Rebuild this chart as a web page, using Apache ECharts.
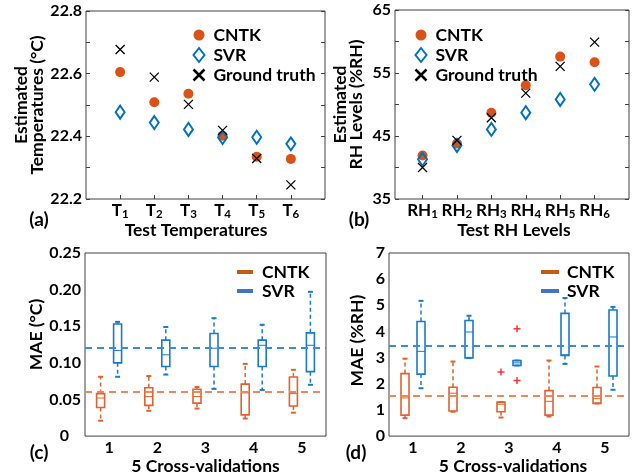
<!DOCTYPE html>
<html><head><meta charset="utf-8">
<script src="https://cdn.jsdelivr.net/npm/echarts@6/dist/echarts.min.js"></script>
<style>html,body{margin:0;padding:0;background:#fff}#c{width:637px;height:476px}</style>
</head><body><div id="c"></div>
<script>
// ---- data ----
const testIdx = [1, 2, 3, 4, 5, 6];
const tempCNTK = [22.605, 22.509, 22.536, 22.402, 22.335, 22.328];
const tempSVR  = [22.477, 22.444, 22.422, 22.396, 22.397, 22.376];
const tempGT   = [22.677, 22.589, 22.502, 22.419, 22.329, 22.245];
const rhCNTK = [41.9, 43.8, 48.7, 53.05, 57.6, 56.7];
const rhSVR  = [41.3, 43.5, 46.05, 48.7, 50.8, 53.2];
const rhGT   = [40.0, 44.3, 47.9, 51.8, 56.05, 59.9];
const folds = ['1', '2', '3', '4', '5'];
// [low whisker, q1, median, q3, high whisker]
const maeTempCNTK = [[0.021,0.039,0.052,0.058,0.081],[0.0345,0.042,0.054,0.066,0.082],[0.0376,0.045,0.054,0.064,0.067],[0.024,0.029,0.059,0.071,0.0986],[0.032,0.041,0.058,0.0806,0.0905]];
const maeTempSVR  = [[0.081,0.100,0.117,0.153,0.156],[0.084,0.095,0.111,0.131,0.149],[0.0645,0.095,0.120,0.140,0.161],[0.063,0.095,0.124,0.131,0.152],[0.070,0.088,0.124,0.141,0.197]];
const maeTempMeanCNTK = 0.055;
const maeTempMeanSVR = 0.118;
const maeRhCNTK = [[0.685,0.80,1.46,2.39,2.96],[0.93,0.96,1.64,1.87,2.85],[0.71,0.93,1.22,1.30,1.30],[0.75,0.80,1.33,1.74,2.89],[1.25,1.25,1.43,1.86,2.66]];
const maeRhSVR  = [[1.83,2.37,3.24,4.38,5.17],[2.99,2.99,3.98,4.42,4.60],[2.70,2.70,2.80,2.89,2.89],[2.76,3.08,3.11,4.69,5.28],[1.77,2.30,3.79,4.82,4.94]];
const maeRhOutCNTK = [[2, 2.45]];
const maeRhOutSVR  = [[2, 4.10], [2, 2.13]];
const maeRhMeanCNTK = 1.53;
const maeRhMeanSVR = 3.47;

// ---- style ----
const FONT = 'Lato';
const ORANGE = '#D95319', BLUE = '#0072BD';
const BOX_O = '#E0622E', BOX_B = '#1A7BC6';
const MEAN_O = '#EC8A5E', MEAN_B = '#3A8DD4';
const FRAME = '#404040';
const lbl = {fontFamily: FONT, fontWeight: 'bold', fontSize: 16, color: '#000'};
const ttl = {fontFamily: FONT, fontWeight: 'bold', fontSize: 17.5, color: '#000'};
const CROSS = 'path://M0,0L10,10M10,0L0,10';
const PLUS = 'path://M5,0L5,10M0,5L10,5';

const chart = echarts.init(document.getElementById('c'), null, {renderer: 'canvas'});

function subFmt(prefix) {
  return v => '{t|' + prefix + '}{s|' + v + '}';
}
const subRich = {
  t: {fontFamily: FONT, fontWeight: 'bold', fontSize: 17, lineHeight: 17, verticalAlign: 'top', color: '#000'},
  s: {fontFamily: FONT, fontWeight: 'bold', fontSize: 11.5, lineHeight: 11.5, padding: [6, 0, 0, 0], verticalAlign: 'top', color: '#000'}
};

function xScatterAxis(gi, min, prefix, name, namePad) {
  return {
    type: 'value', gridIndex: gi, min: min, max: 7,
    axisLine: {show: false}, splitLine: {show: false},
    axisTick: {inside: true, length: 4, lineStyle: {color: FRAME}, customValues: testIdx},
    axisLabel: {margin: 3, customValues: testIdx, formatter: subFmt(prefix), rich: subRich},
    name: name, nameLocation: 'middle', nameGap: 19,
    nameTextStyle: Object.assign({}, ttl, {padding: namePad})
  };
}
function yAxisL(gi, min, max, interval, fmt, name, gap, pad, rich) {
  return {
    type: 'value', gridIndex: gi, min: min, max: max, interval: interval,
    axisLine: {show: false}, splitLine: {show: false},
    axisTick: {inside: true, length: 4, lineStyle: {color: FRAME}},
    axisLabel: Object.assign({}, lbl, {margin: 4, formatter: fmt, rich: rich}),
    name: name, nameLocation: 'middle', nameGap: gap,
    nameTextStyle: Object.assign({}, ttl, {lineHeight: 16, padding: pad})
  };
}
function yAxisR(gi, min, max, interval) {
  return {
    type: 'value', gridIndex: gi, position: 'right', min: min, max: max, interval: interval,
    axisLine: {show: false}, splitLine: {show: false}, axisLabel: {show: false},
    axisTick: {inside: true, length: 4, lineStyle: {color: FRAME}}
  };
}
function xCatAxis(gi, name, pad) {
  return {
    type: 'category', gridIndex: gi, data: folds, boundaryGap: true,
    axisLine: {show: false}, splitLine: {show: false},
    axisTick: {inside: true, length: 4, alignWithLabel: true, lineStyle: {color: FRAME}},
    axisLabel: Object.assign({}, lbl, {margin: 4}),
    name: name, nameLocation: 'middle', nameGap: 17,
    nameTextStyle: Object.assign({}, ttl, {padding: pad})
  };
}

function boxRender(offset, color) {
  return function (params, api) {
    const i = api.value(0);
    const x = api.coord([i, 0])[0] + offset;
    const py = k => api.coord([i, api.value(k)])[1];
    const lo = py(1), q1 = py(2), md = py(3), q3 = py(4), hi = py(5);
    const hw = 4, cw = 2.5;
    const dash = {stroke: color, lineWidth: 1.5, lineDash: [4, 3]};
    const solid = {stroke: color, lineWidth: 2};
    return {type: 'group', children: [
      {type: 'line', shape: {x1: x, y1: q3, x2: x, y2: hi}, style: dash},
      {type: 'line', shape: {x1: x, y1: q1, x2: x, y2: lo}, style: dash},
      {type: 'line', shape: {x1: x - cw, y1: hi, x2: x + cw, y2: hi}, style: solid},
      {type: 'line', shape: {x1: x - cw, y1: lo, x2: x + cw, y2: lo}, style: solid},
      {type: 'rect', shape: {x: x - hw, y: q3, width: 2 * hw, height: Math.max(q1 - q3, 1)}, style: {fill: 'none', stroke: color, lineWidth: 1.6}},
      {type: 'line', shape: {x1: x - hw, y1: md, x2: x + hw, y2: md}, style: {stroke: color, lineWidth: 1}}
    ]};
  };
}
function boxSeries(name, gi, arr, offset, color, mean, meanColor) {
  return {
    name: name, type: 'custom', xAxisIndex: gi, yAxisIndex: gi * 2,
    renderItem: boxRender(offset, color),
    encode: {x: 0, y: [1, 2, 3, 4, 5]},
    data: arr.map((b, i) => [i].concat(b)),
    z: 3,
    markLine: {
      silent: true, symbol: 'none', label: {show: false},
      lineStyle: {type: [7, 5], color: meanColor, width: 1.8},
      data: [{yAxis: mean}]
    }
  };
}

const legendText = Object.assign({}, ttl, {lineHeight: 17});

const option = {
  animation: false,
  backgroundColor: '#fff',
  grid: [
    {left: 86, top: 11, width: 239, height: 188, show: true, borderColor: FRAME, borderWidth: 1, backgroundColor: 'transparent'},
    {left: 395, top: 10, width: 234, height: 189, show: true, borderColor: FRAME, borderWidth: 1, backgroundColor: 'transparent'},
    {left: 85, top: 253, width: 241, height: 187, show: true, borderColor: FRAME, borderWidth: 1, backgroundColor: 'transparent'},
    {left: 389, top: 253, width: 240, height: 187, show: true, borderColor: FRAME, borderWidth: 1, backgroundColor: 'transparent'}
  ],
  xAxis: [
    xScatterAxis(0, 0, 'T', 'Test Temperatures', [0, 19, 0, 0]),
    xScatterAxis(1, 0.2, 'RH', 'Test RH Levels', [0, 0, 0, 4]),
    xCatAxis(2, '5 Cross-validations', [0, 0, 0, 0]),
    xCatAxis(3, '5 Cross-validations', [0, 0, 0, 8])
  ],
  yAxis: [
    yAxisL(0, 22.2, 22.8, 0.1, v => (Math.round(v * 10) % 2 === 0 ? v.toFixed(1) : ''), 'Estimated\nTemperatures (°C)', 40, [0, 0, 0, 0]),
    yAxisR(0, 22.2, 22.8, 0.1),
    yAxisL(1, 35, 65, 5, v => ((Math.round(v) - 35) % 10 === 0 ? String(Math.round(v)) : ''), 'Estimated\nRH Levels (%RH)', 31, [0, 0, 0, 0]),
    yAxisR(1, 35, 65, 5),
    yAxisL(2, 0, 0.25, 0.05, v => (Math.abs(v) < 1e-9 ? '{z|0}' : v.toFixed(2)), 'MAE (°C)', 40, [0, 0, 0, 20],
      {z: Object.assign({}, lbl, {padding: [0, 12, 0, 0]})}),
    yAxisR(2, 0, 0.25, 0.05),
    yAxisL(3, 0, 7, 1, v => String(Math.round(v)), 'MAE (%RH)', 24, [0, 0, 0, 8]),
    yAxisR(3, 0, 7, 1)
  ],
  legend: [
    {left: 186, top: 21, orient: 'vertical', itemWidth: 11, itemHeight: 14, itemGap: 2,
     textStyle: Object.assign({}, legendText, {padding: [0, 0, 0, 4]}),
     formatter: n => n.split('|')[0],
     data: ['CNTK|a', 'SVR|a', {name: 'Ground truth|a', itemStyle: {borderWidth: 2.5}}]},
    {left: 408, top: 21, orient: 'vertical', itemWidth: 11, itemHeight: 14, itemGap: 2,
     textStyle: Object.assign({}, legendText, {padding: [0, 0, 0, 4]}),
     formatter: n => n.split('|')[0],
     data: ['CNTK|b', 'SVR|b', {name: 'Ground truth|b', itemStyle: {borderWidth: 2.5}}]},
    {left: 232, top: 258, orient: 'vertical', itemWidth: 16, itemHeight: 4, itemGap: 1,
     textStyle: Object.assign({}, legendText, {padding: [0, 0, 0, 4]}),
     formatter: n => n.split('|')[0],
     data: [{name: 'CNTK|c', icon: 'rect', itemStyle: {color: '#C55A11', borderWidth: 0}},
            {name: 'SVR|c', icon: 'rect', itemStyle: {color: '#4472C4', borderWidth: 0}}]},
    {left: 536, top: 258, orient: 'vertical', itemWidth: 18, itemHeight: 4, itemGap: 1,
     textStyle: Object.assign({}, legendText, {padding: [0, 0, 0, 3]}),
     formatter: n => n.split('|')[0],
     data: [{name: 'CNTK|d', icon: 'rect', itemStyle: {color: '#C55A11', borderWidth: 0}},
            {name: 'SVR|d', icon: 'rect', itemStyle: {color: '#4472C4', borderWidth: 0}}]}
  ],
  series: [
    {name: 'CNTK|a', type: 'scatter', xAxisIndex: 0, yAxisIndex: 0, symbol: 'circle', symbolSize: 10,
     itemStyle: {color: ORANGE, opacity: 1}, data: testIdx.map((t, i) => [t, tempCNTK[i]])},
    {name: 'SVR|a', type: 'scatter', xAxisIndex: 0, yAxisIndex: 0, symbol: 'diamond', symbolSize: [9, 13],
     itemStyle: {color: 'rgba(0,0,0,0)', borderColor: BLUE, borderWidth: 2, opacity: 1}, data: testIdx.map((t, i) => [t, tempSVR[i]])},
    {name: 'Ground truth|a', type: 'scatter', xAxisIndex: 0, yAxisIndex: 0, symbol: CROSS, symbolSize: 9, symbolKeepAspect: true,
     itemStyle: {color: 'none', borderColor: '#000', borderWidth: 1.3, opacity: 1}, data: testIdx.map((t, i) => [t, tempGT[i]])},
    {name: 'CNTK|b', type: 'scatter', xAxisIndex: 1, yAxisIndex: 2, symbol: 'circle', symbolSize: 10,
     itemStyle: {color: ORANGE, opacity: 1}, data: testIdx.map((t, i) => [t, rhCNTK[i]])},
    {name: 'SVR|b', type: 'scatter', xAxisIndex: 1, yAxisIndex: 2, symbol: 'diamond', symbolSize: [9, 13],
     itemStyle: {color: 'rgba(0,0,0,0)', borderColor: BLUE, borderWidth: 2, opacity: 1}, data: testIdx.map((t, i) => [t, rhSVR[i]])},
    {name: 'Ground truth|b', type: 'scatter', xAxisIndex: 1, yAxisIndex: 2, symbol: CROSS, symbolSize: 9, symbolKeepAspect: true,
     itemStyle: {color: 'none', borderColor: '#000', borderWidth: 1.3, opacity: 1}, data: testIdx.map((t, i) => [t, rhGT[i]])},
    boxSeries('CNTK|c', 2, maeTempCNTK, -8.5, BOX_O, maeTempMeanCNTK, MEAN_O),
    boxSeries('SVR|c', 2, maeTempSVR, 8.5, BOX_B, maeTempMeanSVR, MEAN_B),
    boxSeries('CNTK|d', 3, maeRhCNTK, -8, BOX_O, maeRhMeanCNTK, MEAN_O),
    boxSeries('SVR|d', 3, maeRhSVR, 8, BOX_B, maeRhMeanSVR, MEAN_B),
    {name: 'outCNTK', type: 'scatter', xAxisIndex: 3, yAxisIndex: 6, symbol: PLUS, symbolSize: 7, symbolOffset: [-8, 0],
     itemStyle: {color: 'none', borderColor: '#FF0000', borderWidth: 1.5}, data: maeRhOutCNTK, z: 4},
    {name: 'outSVR', type: 'scatter', xAxisIndex: 3, yAxisIndex: 6, symbol: PLUS, symbolSize: 7, symbolOffset: [8, 0],
     itemStyle: {color: 'none', borderColor: '#FF0000', borderWidth: 1.5}, data: maeRhOutSVR, z: 4}
  ],
  graphic: [
    {type: 'text', x: 39, y: 220, style: {text: '(a)', font: 'bold 19px Lato', fill: '#000', align: 'center', verticalAlign: 'middle'}},
    {type: 'text', x: 359, y: 220, style: {text: '(b)', font: 'bold 19px Lato', fill: '#000', align: 'center', verticalAlign: 'middle'}},
    {type: 'text', x: 39, y: 453, style: {text: '(c)', font: 'bold 19px Lato', fill: '#000', align: 'center', verticalAlign: 'middle'}},
    {type: 'text', x: 356, y: 453, style: {text: '(d)', font: 'bold 19px Lato', fill: '#000', align: 'center', verticalAlign: 'middle'}}
  ]
};
chart.setOption(option);
</script>
</body></html>
